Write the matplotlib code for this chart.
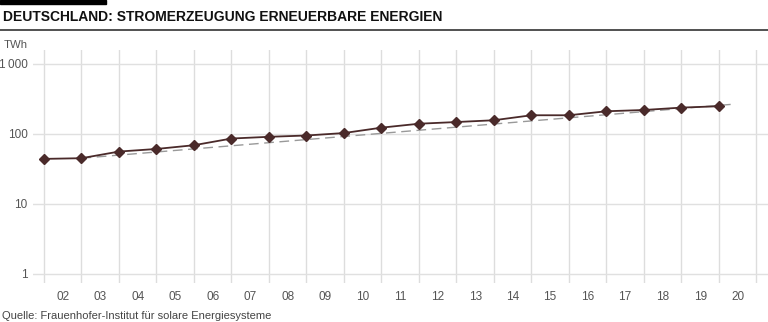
import matplotlib
matplotlib.use("Agg")
import matplotlib.pyplot as plt
import numpy as np

# Data
year_labels = ["02", "03", "04", "05", "06", "07", "08", "09", "10", "11",
               "12", "13", "14", "15", "16", "17", "18", "19", "20"]
values = [44, 45, 56, 61, 69, 86, 91, 95, 103, 123,
          140, 148, 157, 185, 185, 211, 220, 238, 249]
trend_x = [1, 18.45]
trend_y = [45, 268]
y_ticks = [1, 10, 100, 1000]
y_tick_labels = ["1", "10", "100", "1\u2009000"]

plt.rcParams['font.family'] = ['Liberation Sans', 'DejaVu Sans']

W, H = 768, 322
fig = plt.figure(figsize=(W / 100, H / 100), dpi=100)

ax = fig.add_axes([33 / W, 1 - 283 / H, (768 - 33) / W, (283 - 50) / H])
ax.set_yscale('log')
ax.set_ylim(0.74, 1585)
ax.set_xlim(-0.293, 19.31)

# grid
for xv in range(len(year_labels) + 1):
    ax.axvline(xv, color='#dddddd', lw=1, zorder=0)
for yv in y_ticks:
    ax.axhline(yv, color='#e0e0e0', lw=1, zorder=0)

x = np.arange(len(values))
ax.plot(trend_x, trend_y, color='#999999', lw=1, dashes=(7, 4), zorder=2)
ax.plot(x, values, color='#4a2a2a', lw=1.3, marker='D', markersize=5,
        markerfacecolor='#4a2a2a', markeredgecolor='#4a2a2a', zorder=3)

ax.set_yticks(y_ticks)
ax.set_yticklabels(y_tick_labels)
ax.yaxis.set_minor_locator(matplotlib.ticker.NullLocator())
ax.set_xticks(np.arange(len(year_labels)) + 0.5)
ax.set_xticklabels(year_labels)
ax.tick_params(axis='both', length=0, labelsize=8.5, colors='#555555')
ax.tick_params(axis='y', pad=4)
ax.tick_params(axis='x', pad=6)
for s in ax.spines.values():
    s.set_visible(False)

# Title and decorations
fig.patches.append(plt.Rectangle((0, 1 - 4 / H), 106 / W, 4 / H,
                                 transform=fig.transFigure, color='black'))
fig.add_artist(plt.Line2D([0, 1], [1 - 30 / H, 1 - 30 / H],
                          transform=fig.transFigure, color='#333333', lw=1.2))
fig.text(3 / W, 1 - 17 / H, "DEUTSCHLAND: STROMERZEUGUNG ERNEUERBARE ENERGIEN",
         fontsize=10, fontweight='bold', color='#111111', va='center', ha='left')
fig.text(4 / W, 1 - 45 / H, "TWh", fontsize=8.2, color='#555555', va='center', ha='left')
fig.text(2 / W, 1 - 316 / H, "Quelle: Frauenhofer-Institut für solare Energiesysteme",
         fontsize=8, color='#444444', va='center', ha='left')

fig.savefig("out.png", dpi=100)
